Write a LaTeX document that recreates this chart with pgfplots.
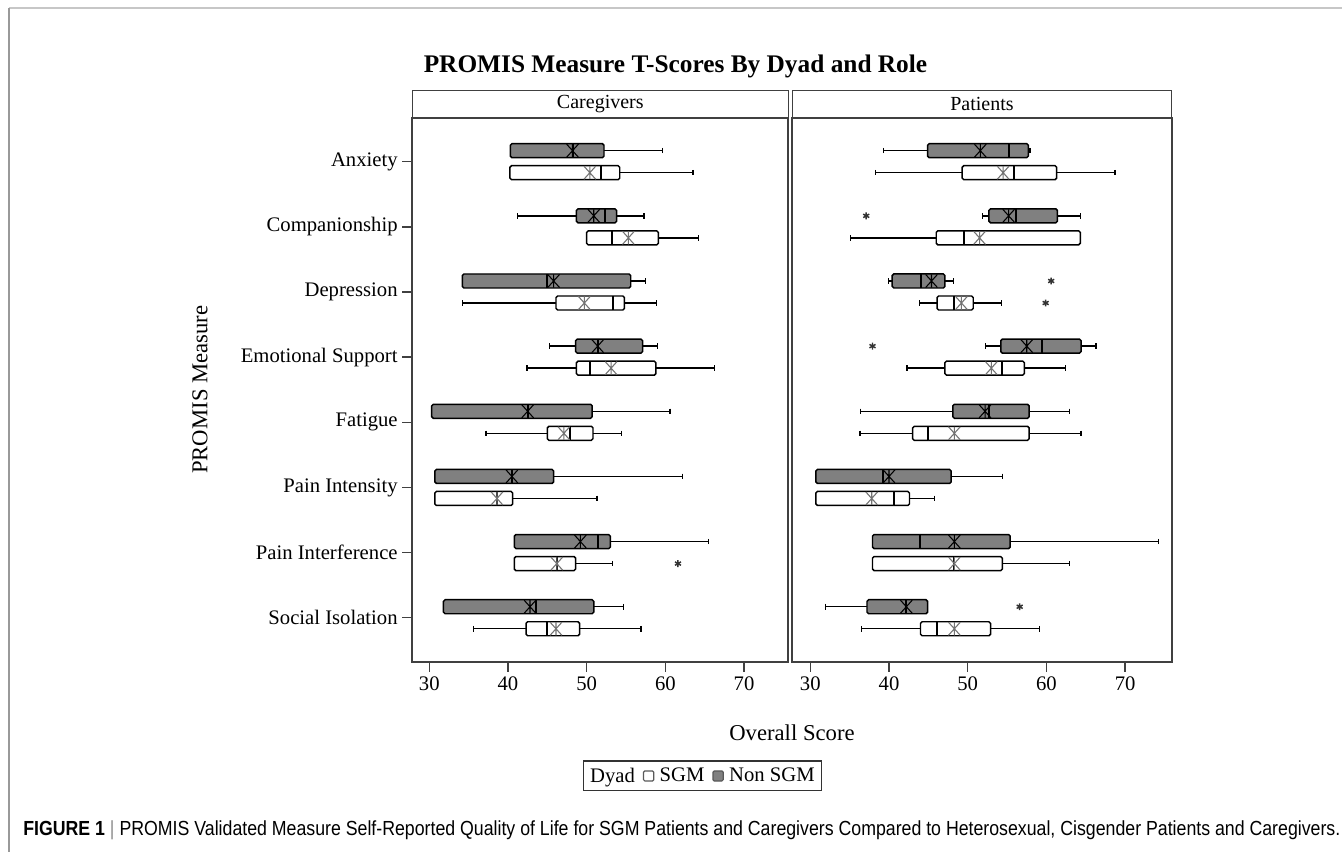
\documentclass[border=0pt]{standalone}
\usepackage{fontspec}
\setmainfont{Liberation Serif}
\newfontfamily\capfont{Liberation Sans}
\usepackage{pgfplots}
\pgfplotsset{compat=1.18}
\usepgfplotslibrary{statistics}
\definecolor{nsgray}{HTML}{808080}
\definecolor{frm}{HTML}{404040}

\pgfdeclareplotmark{sasmean}{%
 \pgfpathmoveto{\pgfqpoint{-.9\pgfplotmarksize}{-\pgfplotmarksize}}%
 \pgfpathlineto{\pgfqpoint{.9\pgfplotmarksize}{\pgfplotmarksize}}%
 \pgfpathmoveto{\pgfqpoint{-.9\pgfplotmarksize}{\pgfplotmarksize}}%
 \pgfpathlineto{\pgfqpoint{.9\pgfplotmarksize}{-\pgfplotmarksize}}%
 \pgfpathmoveto{\pgfqpoint{0pt}{-\pgfplotmarksize}}%
 \pgfpathlineto{\pgfqpoint{0pt}{\pgfplotmarksize}}%
 \pgfusepathqstroke}

\newcommand{\bx}[7]{\addplot[forget plot,#1,boxplot prepared={draw position=#2,lower whisker=#3,lower quartile=#4,median=#5,upper quartile=#6,upper whisker=#7}] coordinates {};}

\pgfplotsset{
 panel/.style={scale only axis, height=408pt, ymin=0.325, ymax=8.675, y dir=reverse,
   xtick={30,40,50,60,70}, xtick pos=bottom, ytick pos=left, tick align=outside,
   major tick length=7.5pt,
   axis line style={draw=frm, line width=1.3pt},
   tick style={draw=frm, line width=1pt},
   ticklabel style={font=\fontsize{15.5}{18}\selectfont},
   /pgf/number format/assume math mode=true,
   clip=false,
   boxplot/draw direction=x,
   boxplot/box extend=0.215,
   boxplot/whisker extend=0.085,
   boxplot/every box/.style={draw=black, line width=1.1pt, rounded corners=1.2pt},
   boxplot/every median/.style={line width=1.5pt},
   boxplot/every whisker/.style={line width=1pt},
 },
 ngbox/.style={fill=nsgray, draw=black},
 sgbox/.style={fill=white, draw=black},
 meanN/.style={forget plot, only marks, mark=sasmean, mark size=4.9pt, mark options={line width=0.8pt, draw=black}},
 meanS/.style={forget plot, only marks, mark=sasmean, mark size=4.9pt, mark options={line width=0.8pt, draw=black!55}},
 outl/.style={forget plot, only marks, mark=asterisk, mark size=2.6pt, mark options={line width=1.1pt, draw=black!80}},
}

\begin{document}
\begin{tikzpicture}
\useasboundingbox (0,0) rectangle (1006.5pt,-638.25pt);
\draw[black!22, line width=1pt] (6.75pt,-6pt) -- (1010pt,-6pt);
\draw[black!40, line width=1pt] (6.75pt,-6pt) -- (6.75pt,-642pt);

% ---------------- Caregivers ----------------
\begin{axis}[panel, at={(309.225pt,-496.275pt)}, anchor=south west, width=282pt,
  xmin=27.84, xmax=75.62,
  ytick={1,2,3,4,5,6,7,8},
  yticklabels={Anxiety,Companionship,Depression,Emotional Support,Fatigue,Pain Intensity,Pain Interference,Social Isolation},
  ylabel={PROMIS Measure},
  ylabel style={at={(axis description cs:-0.5646,0.5)}, anchor=center, font=\fontsize{17}{20}\selectfont},
  xlabel={Overall Score},
  xlabel style={at={(axis description cs:1.0098,-0.131)}, anchor=center, font=\fontsize{17}{20}\selectfont},
  legend style={at={(1.0896,-0.21)}, anchor=east, draw=black!80, line width=1pt,
    font=\fontsize{15.5}{18}\selectfont, legend columns=-1, inner sep=3pt,
    /tikz/every even column/.append style={column sep=4pt}},
]
\bx{ngbox}{0.831}{40.3}{40.3}{48.2}{52.2}{59.6}
\bx{sgbox}{1.169}{40.25}{40.25}{51.8}{54.2}{63.5}
\bx{ngbox}{1.831}{41.2}{48.7}{52.3}{53.8}{57.3}
\bx{sgbox}{2.169}{50.0}{50.0}{53.2}{59.1}{64.2}
\bx{ngbox}{2.831}{34.2}{34.2}{45.0}{55.6}{57.5}
\bx{sgbox}{3.169}{34.2}{46.1}{53.4}{54.8}{58.9}
\bx{ngbox}{3.831}{45.3}{48.6}{51.4}{57.1}{59.0}
\bx{sgbox}{4.169}{42.4}{48.7}{50.4}{58.8}{66.2}
\bx{ngbox}{4.831}{30.3}{30.3}{42.5}{50.7}{60.6}
\bx{sgbox}{5.169}{37.2}{45.0}{47.9}{50.8}{54.4}
\bx{ngbox}{5.831}{30.7}{30.7}{40.5}{45.8}{62.2}
\bx{sgbox}{6.169}{30.7}{30.7}{38.6}{40.6}{51.3}
\bx{ngbox}{6.831}{40.8}{40.8}{51.5}{53.0}{65.5}
\bx{sgbox}{7.169}{40.8}{40.8}{46.2}{48.6}{53.3}
\bx{ngbox}{7.831}{31.8}{31.8}{43.6}{50.9}{54.7}
\bx{sgbox}{8.169}{35.6}{42.3}{45.0}{49.1}{56.9}
\addplot[meanN] coordinates {(48.2,0.831) (50.9,1.831) (45.8,2.831) (51.4,3.831) (42.5,4.831) (40.5,5.831) (49.2,6.831) (42.8,7.831)};
\addplot[meanS] coordinates {(50.4,1.169) (55.3,2.169) (49.7,3.169) (53.1,4.169) (47.1,5.169) (38.6,6.169) (46.2,7.169) (46.1,8.169)};
\addplot[outl] coordinates {(61.6,7.169)};
\addlegendimage{empty legend}\addlegendentry{Dyad\hspace{6pt}}
\addlegendimage{legend image code/.code={\draw[fill=white,draw=black!65,rounded corners=1pt,line width=0.9pt] (0pt,-3.8pt) rectangle (7.6pt,3.8pt);}}\addlegendentry{\hspace{2pt}SGM}
\addlegendimage{legend image code/.code={\draw[fill=nsgray,draw=black!65,rounded corners=1pt,line width=0.9pt] (0pt,-3.8pt) rectangle (7.6pt,3.8pt);}}\addlegendentry{\hspace{2pt}Non SGM}
\end{axis}

% ---------------- Patients ----------------
\begin{axis}[panel, at={(594.225pt,-496.275pt)}, anchor=south west, width=284.55pt,
  xmin=27.71, xmax=75.92, ytick=\empty]
\bx{ngbox}{0.831}{39.3}{44.9}{55.3}{57.7}{57.9}
\bx{sgbox}{1.169}{38.3}{49.3}{55.9}{61.3}{68.7}
\bx{ngbox}{1.831}{51.9}{52.7}{56.1}{61.4}{64.3}
\bx{sgbox}{2.169}{35.1}{46.0}{49.5}{64.3}{64.3}
\bx{ngbox}{2.831}{39.9}{40.4}{44.1}{47.1}{48.2}
\bx{sgbox}{3.169}{43.9}{46.1}{48.3}{50.7}{54.3}
\bx{ngbox}{3.831}{52.3}{54.2}{59.4}{64.4}{66.3}
\bx{sgbox}{4.169}{42.3}{47.1}{54.3}{57.2}{62.4}
\bx{ngbox}{4.831}{36.4}{48.1}{52.7}{57.8}{62.9}
\bx{sgbox}{5.169}{36.3}{43.0}{45.0}{57.8}{64.4}
\bx{ngbox}{5.831}{30.7}{30.7}{39.2}{47.9}{54.4}
\bx{sgbox}{6.169}{30.7}{30.7}{40.6}{42.6}{45.8}
\bx{ngbox}{6.831}{37.9}{37.9}{43.9}{55.4}{74.2}
\bx{sgbox}{7.169}{37.9}{37.9}{48.3}{54.4}{62.9}
\bx{ngbox}{7.831}{31.9}{37.2}{42.2}{44.9}{44.9}
\bx{sgbox}{8.169}{36.5}{44.0}{46.1}{52.9}{59.1}
\addplot[meanN] coordinates {(51.6,0.831) (55.2,1.831) (45.4,2.831) (57.5,3.831) (52.2,4.831) (40.0,5.831) (48.3,6.831) (42.2,7.831)};
\addplot[meanS] coordinates {(54.5,1.169) (51.5,2.169) (49.2,3.169) (53.0,4.169) (48.3,5.169) (37.8,6.169) (48.3,7.169) (48.3,8.169)};
\addplot[outl] coordinates {(37.1,1.831) (60.6,2.831) (59.9,3.169) (37.9,3.831) (56.6,7.831)};
\end{axis}

% strip headers
\draw[frm, line width=1.1pt, fill=white] (309.225pt,-68pt) rectangle (591.225pt,-88.275pt);
\node[font=\fontsize{15}{18}\selectfont] at (450.225pt,-78.1pt) {Caregivers};
\draw[frm, line width=1.1pt, fill=white] (594.225pt,-68pt) rectangle (878.775pt,-88.275pt);
\node[font=\fontsize{15}{18}\selectfont] at (736.5pt,-78.1pt) {Patients};

% title
\node[font=\bfseries\fontsize{19}{23}\selectfont] at (506.6pt,-49.5pt) {PROMIS Measure T-Scores By Dyad and Role};

% caption
\node[anchor=west, inner sep=0pt, font=\capfont\fontsize{13.3}{16}\selectfont] at (17.25pt,-622.5pt)
 {\scalebox{1}[1.15]{\textbf{FIGURE 1} \textcolor{black!45}{|} PROMIS Validated Measure Self-Reported Quality of Life for SGM Patients and Caregivers Compared to Heterosexual, Cisgender Patients and Caregivers.}};
\end{tikzpicture}
\end{document}
